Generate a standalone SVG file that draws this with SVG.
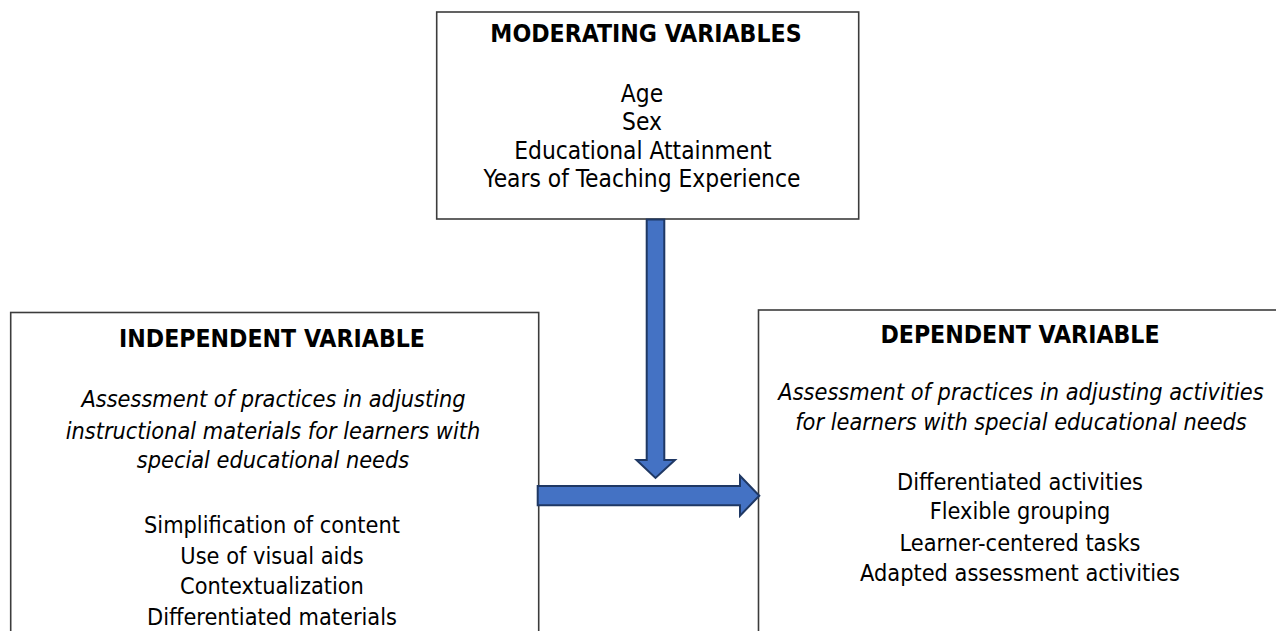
<svg xmlns="http://www.w3.org/2000/svg" width="1276" height="631" viewBox="0 0 1276 631">
  <style>
    .box { fill: #ffffff; stroke: #3c3c3c; stroke-width: 1.6; }
    .t { font-family: "DejaVu Sans Condensed", "DejaVu Sans", sans-serif; font-stretch: condensed; font-size: 24.6px; fill: #000000; text-anchor: middle; }
    .h { font-weight: bold; }
    .m { font-size: 24.3px; }
    .l { font-size: 23.3px; }
    .i { font-style: italic; font-size: 23.3px; }
    .arrow { fill: #4472C4; stroke: #1F3864; stroke-width: 2; stroke-linejoin: miter; }
  </style>
  <rect width="1276" height="631" fill="#ffffff"/>

  <!-- moderating variables -->
  <g id="moderating">
    <rect class="box" x="436.7" y="12" width="422" height="207"/>
    <text class="t h" x="646" y="42">MODERATING VARIABLES</text>
    <text class="t m" x="642" y="102">Age</text>
    <text class="t m" x="642" y="130">Sex</text>
    <text class="t m" x="643" y="158.5">Educational Attainment</text>
    <text class="t m" x="642" y="187">Years of Teaching Experience</text>
  </g>

  <!-- independent variable -->
  <g id="independent">
    <rect class="box" x="10.7" y="312.5" width="528" height="340"/>
    <text class="t h" x="272" y="346.5">INDEPENDENT VARIABLE</text>
    <text class="t i" x="273.5" y="407">Assessment of practices in adjusting</text>
    <text class="t i" x="273" y="439">instructional materials for learners with</text>
    <text class="t i" x="273" y="468">special educational needs</text>
    <text class="t l" x="272" y="533">Simplification of content</text>
    <text class="t l" x="272" y="563.5">Use of visual aids</text>
    <text class="t l" x="272" y="594">Contextualization</text>
    <text class="t l" x="272" y="625">Differentiated materials</text>
  </g>

  <!-- dependent variable -->
  <g id="dependent">
    <rect class="box" x="758.5" y="310" width="540" height="340"/>
    <text class="t h" x="1020" y="343">DEPENDENT VARIABLE</text>
    <text class="t i" x="1021" y="400">Assessment of practices in adjusting activities</text>
    <text class="t i" x="1021" y="430">for learners with special educational needs</text>
    <text class="t l" x="1020" y="490">Differentiated activities</text>
    <text class="t l" x="1020" y="519">Flexible grouping</text>
    <text class="t l" x="1020" y="550.5">Learner-centered tasks</text>
    <text class="t l" x="1020" y="580.5">Adapted assessment activities</text>
  </g>

  <!-- block arrows -->
  <g id="connectors">
    <path class="arrow" d="M646.7,219.5 L664.3,219.5 L664.3,460 L675,460 L655.5,478 L636.5,460 L646.7,460 Z"/>
    <path class="arrow" d="M537.7,486 L740,486 L740,475.7 L759.3,495.7 L740,515.7 L740,505.3 L537.7,505.3 Z"/>
  </g>
</svg>
